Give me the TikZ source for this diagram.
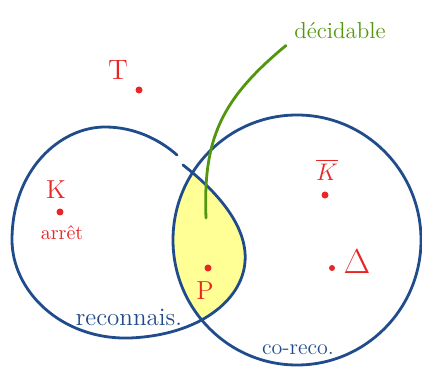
\documentclass[tikz,border=0pt]{standalone}
\usepackage{amsmath}
\usepackage{amssymb}
\usepackage{tikz}

\definecolor{inkblue}{RGB}{32,76,140}
\definecolor{inkred}{RGB}{232,38,38}
\definecolor{inkgreen}{RGB}{82,150,16}
\definecolor{lensyellow}{RGB}{255,255,150}

\begin{document}
\begin{tikzpicture}[x=0.5pt,y=-0.5pt,line cap=round,line join=round,
    setline/.style={draw=inkblue,line width=1.4pt},
    pt/.style={circle,fill=inkred,inner sep=0pt,minimum size=3.5pt},
    redlbl/.style={text=inkred,inner sep=1pt},
    bluelbl/.style={text=inkblue,inner sep=1pt}]
  \useasboundingbox (0,0) rectangle (422,367);
  % intersection filled in yellow
  \begin{scope}
    \clip (297,240) circle [x radius=124,y radius=125];
    \fill[lensyellow] (183,165) .. controls (215,190) and (248,225) .. (245,262)
      .. controls (242,300) and (200,335) .. (130,338)
      .. controls (60,340) and (12,290) .. (12,240)
      .. controls (12,170) and (60,127) .. (105,127)
      .. controls (135,127) and (160,140) .. (177,155) -- cycle;
  \end{scope}
  % left set, with its small break on top
  \draw[setline] (183,165) .. controls (215,190) and (248,225) .. (245,262)
    .. controls (242,300) and (200,335) .. (130,338)
    .. controls (60,340) and (12,290) .. (12,240)
    .. controls (12,170) and (60,127) .. (105,127)
    .. controls (135,127) and (160,140) .. (177,155);
  % right set
  \draw[setline] (297,240) circle [x radius=124,y radius=125];
  % points
  \node[pt] (t) at (139,90) {};
  \node[pt] (k) at (60,212) {};
  \node[pt] (kbar) at (325,195) {};
  \node[pt,minimum size=3pt] (delta) at (332,268) {};
  \node[pt] (p) at (208,268) {};
  \node[redlbl,font=\fontsize{14}{16}\selectfont] (tlbl) at (118,70) {T};
  \node[redlbl,font=\fontsize{13}{15}\selectfont] (klbl) at (56,190) {K};
  \node[redlbl,font=\fontsize{10}{12}\selectfont] (arret) at (62,233) {arrêt};
  \node[redlbl,font=\fontsize{13}{15}\selectfont] (kbarlbl) at (327,170) {$\overline{K}$};
  \node[redlbl,font=\fontsize{16}{18}\selectfont] (deltalbl) at (357,262) {$\Delta$};
  \node[redlbl,font=\fontsize{13}{15}\selectfont] (plbl) at (205,291) {P};
  % set names
  \node[bluelbl,font=\fontsize{12.5}{14}\selectfont] (reco) at (129,317) {reconnais.};
  \node[bluelbl,font=\fontsize{11}{13}\selectfont] (coreco) at (298,350) {co-reco.};
  % decidable label and its pointer
  \node[text=inkgreen,font=\fontsize{11.5}{13}\selectfont,inner sep=1pt] (dec) at (340,31) {décidable};
  \coordinate (lens) at (206,218);
  \draw[inkgreen,line width=1.4pt] (lens) .. controls (203,140) and (220,100) .. ([xshift=-3pt,yshift=-2pt]dec.south west);
\end{tikzpicture}
\end{document}
